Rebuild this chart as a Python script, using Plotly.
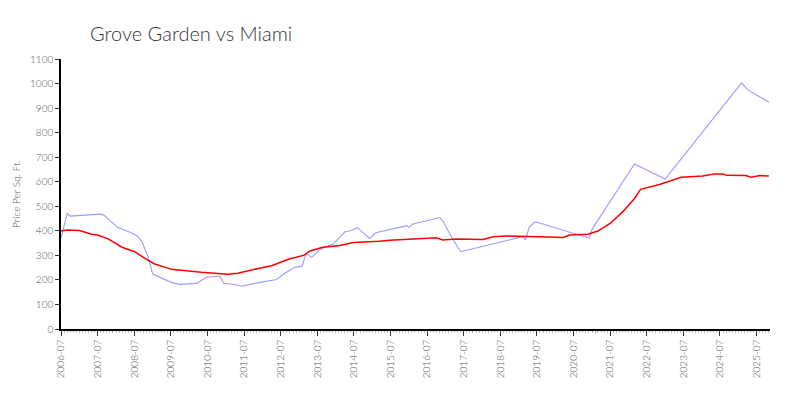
import plotly.graph_objects as go

grove_dates = ["2006-07-01", "2006-09-01", "2006-10-01", "2007-04-01", "2007-08-01", "2007-09-01",
               "2007-12-01", "2008-01-15", "2008-06-01", "2008-08-01", "2008-09-15", "2008-11-15",
               "2009-01-01", "2009-03-01", "2009-07-10", "2009-10-01", "2010-03-15", "2010-06-20",
               "2010-11-01", "2010-12-10", "2011-04-01", "2011-06-05", "2011-10-15", "2012-05-20",
               "2012-08-10", "2012-11-20", "2013-02-01", "2013-03-10", "2013-05-05", "2013-08-01",
               "2013-12-05", "2014-04-01", "2014-06-05", "2014-08-05", "2014-12-05", "2015-02-05",
               "2015-12-10", "2016-01-01", "2016-02-10", "2016-11-05", "2016-12-10", "2017-03-10",
               "2017-06-01", "2017-07-10", "2019-02-10", "2019-03-10", "2019-04-15", "2019-06-10",
               "2019-07-20", "2020-12-05", "2021-01-01", "2022-03-01", "2023-01-01", "2025-02-01",
               "2025-04-05", "2025-11-01"]
grove_values = [370, 471, 460, 464, 468, 464,
                430, 414, 392, 379, 356, 295,
                224, 213, 189, 182, 186, 211,
                216, 186, 181, 174, 186, 202,
                227, 251, 257, 308, 292, 325,
                346, 395, 401, 413, 369, 392,
                421, 413, 428, 454, 437, 369,
                315, 319, 376, 363, 414, 437,
                433, 370, 406, 672, 611, 1003,
                974, 924]

miami_dates = ["2006-07-01", "2006-09-01", "2007-01-01", "2007-05-01", "2007-07-01", "2007-10-15",
               "2008-03-01", "2008-07-05", "2008-10-15", "2009-01-20", "2009-07-10", "2010-01-20",
               "2010-05-01", "2011-01-20", "2011-05-01", "2011-10-15", "2012-04-01", "2012-09-15",
               "2013-02-20", "2013-04-20", "2013-08-25", "2014-02-10", "2014-06-25", "2015-03-15",
               "2015-06-25", "2016-05-20", "2016-10-01", "2016-12-05", "2017-04-15", "2018-01-10",
               "2018-04-20", "2018-09-01", "2019-02-10", "2019-07-20", "2020-03-20", "2020-05-20",
               "2020-11-20", "2021-03-01", "2021-07-01", "2021-11-05", "2022-03-01", "2022-05-01",
               "2022-11-05", "2023-02-15", "2023-06-10", "2024-01-10", "2024-05-05", "2024-08-01",
               "2024-09-05", "2025-03-15", "2025-05-10", "2025-08-01", "2025-11-01"]
miami_values = [399, 403, 401, 386, 383, 367,
                333, 315, 288, 265, 243, 234,
                231, 223, 227, 243, 258, 284,
                301, 318, 333, 340, 352, 358,
                362, 369, 372, 363, 367, 365,
                376, 379, 376, 376, 373, 383,
                386, 399, 430, 478, 532, 569,
                589, 603, 618, 623, 631, 631,
                626, 625, 618, 625, 623]

FONT = "Lato"

fig = go.Figure()
fig.add_trace(go.Scatter(x=grove_dates, y=grove_values, mode="lines", name="Grove Garden",
                         line=dict(color="#9a9aff", width=1.1)))
fig.add_trace(go.Scatter(x=miami_dates, y=miami_values, mode="lines", name="Miami",
                         line=dict(color="#ff0000", width=1.5)))

fig.update_layout(
    width=800, height=400,
    margin=dict(l=53, r=38, t=51, b=79),
    plot_bgcolor="white", paper_bgcolor="white",
    showlegend=False,
    title=dict(text="Grove Garden vs Miami", x=82 / 800, xanchor="left", y=1 - 26 / 400, yanchor="middle",
               font=dict(family=FONT, size=20, color="#333333", weight=300)),
    font=dict(family=FONT, color="#555555"),
)
fig.update_xaxes(
    type="date", range=["2006-07-01", "2025-11-12"], automargin=False,
    tick0="2006-07-01", dtick="M12", tickformat="%Y-%m",
    tickangle=-90, ticks="outside", ticklen=5, tickcolor="#333333",
    tickfont=dict(family=FONT, size=10, color="#555555", weight=300),
    showline=True, linecolor="#000000", linewidth=1.5, showgrid=False, zeroline=False,
    minor=dict(ticks="outside", dtick="M1", tick0="2006-07-01", ticklen=2, tickcolor="#bbbbbb", showgrid=False),
)
fig.update_yaxes(
    range=[0, 1100], dtick=100, ticks="outside", ticklen=4, tickcolor="#333333", automargin=False,
    tickfont=dict(family=FONT, size=10, color="#555555", weight=300),
    showline=True, linecolor="#000000", linewidth=1.5, showgrid=False, zeroline=False,
    title=dict(text="Price Per Sq. Ft.", font=dict(family=FONT, size=10, color="#555555", weight=300), standoff=8),
)

fig.write_html("out.html")
